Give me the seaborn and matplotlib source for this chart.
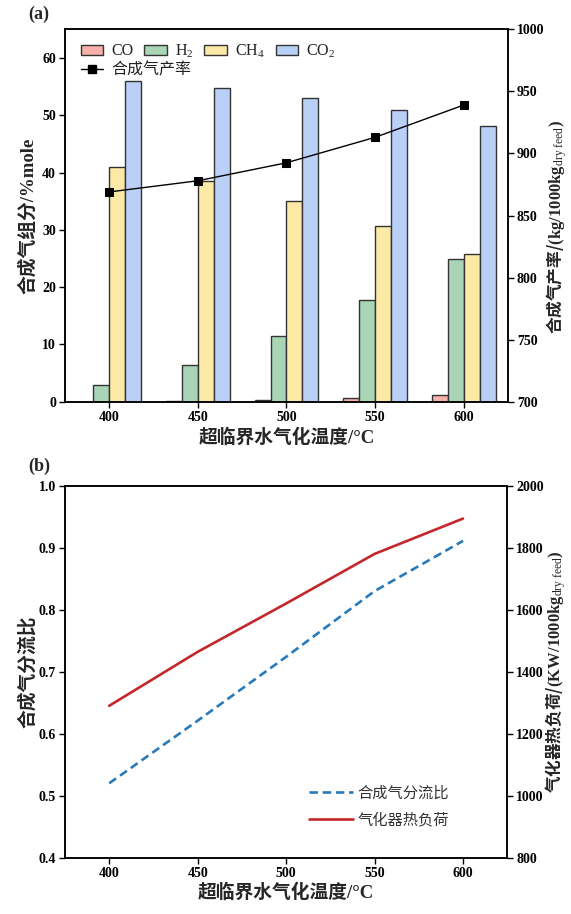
import numpy as np
import pandas as pd
import matplotlib
matplotlib.use("Agg")
import matplotlib.pyplot as plt
import seaborn as sns
from matplotlib.patches import Patch
from matplotlib.lines import Line2D

# ---- data -------------------------------------------------------------
temperatures = ["400", "450", "500", "550", "600"]
gas_names = ["CO", "H$_2$", "CH$_4$", "CO$_2$"]
co_frac = [0.02, 0.1, 0.25, 0.6, 1.1]
h2_frac = [3.0, 6.4, 11.4, 17.7, 24.9]
ch4_frac = [41.0, 38.6, 35.1, 30.7, 25.7]
co2_frac = [56.0, 54.8, 53.0, 50.9, 48.1]
syngas_yield = [869, 878, 892.5, 913, 939]

temp_values = [400, 450, 500, 550, 600]
split_ratio = [0.520, 0.621, 0.724, 0.830, 0.911]
heat_duty = [1290, 1464, 1620, 1780, 1894]

gas_colors = ["#F7B0AA", "#A9D5B6", "#FDE9A6", "#BAD0F7"]

# ---- style ------------------------------------------------------------
sns.set_style("ticks")
plt.rcParams["font.family"] = ["Liberation Serif", "Noto Sans CJK SC"]
plt.rcParams["mathtext.fontset"] = "custom"
plt.rcParams["mathtext.rm"] = "Liberation Serif"
plt.rcParams["mathtext.it"] = "Liberation Serif:italic"
plt.rcParams["mathtext.bf"] = "Liberation Serif:bold"
plt.rcParams["axes.linewidth"] = 1.1
plt.rcParams["axes.edgecolor"] = "black"

TICK_FS = 10
LABEL_FS = 13.5
RIGHT_LABEL_FS = 12

fig = plt.figure(figsize=(5.71, 9.14), dpi=100)
ax_a = fig.add_axes([0.1138, 0.5605, 0.7758, 0.4074])
ax_b = fig.add_axes([0.1138, 0.0616, 0.7746, 0.4070])


def style_ticks(ax):
    ax.tick_params(direction="out", length=4, width=1, colors="black",
                   labelsize=TICK_FS, pad=2.5)
    for lab in ax.get_xticklabels() + ax.get_yticklabels():
        lab.set_fontweight("bold")
        lab.set_fontfamily("Liberation Serif")


# ---- panel (a): gas composition bars + syngas yield ------------------
rows = []
for name, vals in zip(gas_names, [co_frac, h2_frac, ch4_frac, co2_frac]):
    for t, v in zip(temperatures, vals):
        rows.append({"temperature": t, "gas": name, "fraction": v})
comp = pd.DataFrame(rows)

sns.barplot(data=comp, x="temperature", y="fraction", hue="gas",
            order=temperatures, hue_order=gas_names, palette=gas_colors,
            width=0.72, saturation=1, edgecolor="#333333", linewidth=1.0,
            errorbar=None, legend=False, ax=ax_a)
ax_a.set_xlim(-0.5, 4.5)
ax_a.set_ylim(0, 65)
ax_a.set_yticks(np.arange(0, 61, 10))

ax_a2 = ax_a.twinx()
sns.lineplot(x=np.arange(len(temperatures)), y=syngas_yield, ax=ax_a2,
             color="black", linewidth=1.0, marker="s", markersize=6,
             markeredgecolor="black")
ax_a2.set_ylim(700, 1000)
ax_a2.set_yticks(np.arange(700, 1001, 50))

style_ticks(ax_a)
style_ticks(ax_a2)

ax_a.set_xlabel("超临界水气化温度/°C", fontsize=LABEL_FS, fontweight="bold",
                va="center")
ax_a.xaxis.set_label_coords(0.5, -0.095)
ax_a.set_ylabel("合成气组分/%mole", fontsize=LABEL_FS, fontweight="bold",
                va="center")
ax_a.yaxis.set_label_coords(-0.085, 0.5)
ax_a2.set_ylabel("合成气产率/" + r"$\mathbf{(kg/1000kg}_{\mathrm{dry\ feed}}\mathbf{)}$",
                 fontsize=RIGHT_LABEL_FS, fontweight="bold",
                 family="Noto Sans CJK SC", va="center", rotation=90)
ax_a2.yaxis.set_label_coords(1.11, 0.47)

bar_handles = [Patch(facecolor=c, edgecolor="#333333", linewidth=1.0)
               for c in gas_colors]
leg1 = ax_a2.legend(bar_handles, gas_names, ncol=4, loc="upper left",
                    bbox_to_anchor=(0.01, 0.995), frameon=False,
                    fontsize=11.5, handlelength=1.4, handleheight=0.6,
                    handletextpad=0.5, columnspacing=0.7, borderpad=0.2)
for t in leg1.get_texts():
    t.set_color("#222222")
ax_a2.add_artist(leg1)
line_handle = Line2D([], [], color="black", linewidth=1.0, marker="s",
                     markersize=6)
leg2 = ax_a2.legend([line_handle], ["合成气产率"], loc="upper left",
                    bbox_to_anchor=(0.01, 0.94), frameon=False,
                    fontsize=11.5, handlelength=1.4, handletextpad=0.5,
                    borderpad=0.2)
for t in leg2.get_texts():
    t.set_color("#222222")

# ---- panel (b): split ratio + gasifier heat duty ----------------------
sns.lineplot(x=temp_values, y=split_ratio, ax=ax_b, color="#2A7AB8",
             linewidth=1.9, dashes=False, linestyle=(0, (3.2, 1.8)),
             label="合成气分流比", legend=False)
ax_b.set_xlim(375, 625)
ax_b.set_ylim(0.4, 1.0)
ax_b.set_xticks(temp_values)
ax_b.set_yticks(np.round(np.arange(0.4, 1.01, 0.1), 1))

ax_b2 = ax_b.twinx()
sns.lineplot(x=temp_values, y=heat_duty, ax=ax_b2, color="#C3272B",
             linewidth=1.9, label="气化器热负荷", legend=False)
ax_b2.set_ylim(800, 2000)
ax_b2.set_yticks(np.arange(800, 2001, 200))

style_ticks(ax_b)
style_ticks(ax_b2)

ax_b.set_xlabel("超临界水气化温度/°C", fontsize=LABEL_FS, fontweight="bold",
                va="center")
ax_b.xaxis.set_label_coords(0.5, -0.095)
ax_b.set_ylabel("合成气分流比", fontsize=LABEL_FS, fontweight="bold",
                va="center")
ax_b.yaxis.set_label_coords(-0.085, 0.5)
ax_b2.set_ylabel("气化器热负荷/" + r"$\mathbf{(KW/1000kg}_{\mathrm{dry\ feed}}\mathbf{)}$",
                 fontsize=RIGHT_LABEL_FS, fontweight="bold",
                 family="Noto Sans CJK SC", va="center", rotation=90)
ax_b2.yaxis.set_label_coords(1.11, 0.5)

h1, l1 = ax_b.get_legend_handles_labels()
h2, l2 = ax_b2.get_legend_handles_labels()
leg_b = ax_b2.legend(h1 + h2, l1 + l2, loc="center left",
                     bbox_to_anchor=(0.52, 0.137), frameon=False,
                     fontsize=11, handlelength=2.9, handletextpad=0.3,
                     labelspacing=0.75)
for t in leg_b.get_texts():
    t.set_color("#333333")

fig.text(0.049, 0.984, "(a)", fontsize=13, fontweight="bold",
         family="Liberation Serif", va="center")
fig.text(0.049, 0.490, "(b)", fontsize=13, fontweight="bold",
         family="Liberation Serif", va="center")

fig.savefig("out.png", dpi=100)
